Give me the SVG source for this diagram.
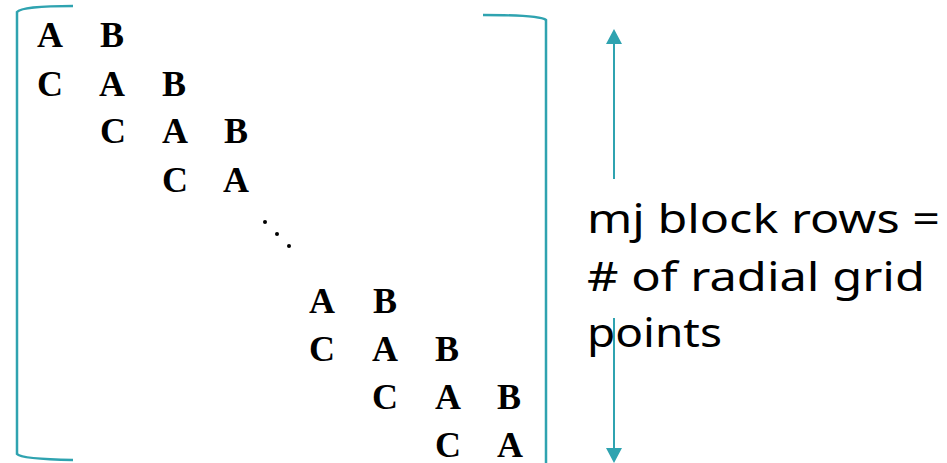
<svg xmlns="http://www.w3.org/2000/svg" width="947" height="463" viewBox="0 0 947 463">
  <style>
    .m { font-family: "Liberation Serif", "Times New Roman", serif; font-weight: bold; font-size: 36px; fill: #000; }
    .lbl { font-family: "Noto Sans", "DejaVu Sans", sans-serif; font-size: 40px; fill: #000; }
    .br { fill: none; stroke: #2fa3b0; stroke-width: 2.5; }
    .ar { stroke: #2fa3b0; stroke-width: 2; fill: none; }
    .ah { fill: #2fa3b0; }
  </style>
  <rect width="947" height="463" fill="#fff"/>
  <g id="bracket-left">
    <path class="br" d="M 73 6 Q 22 6 17 12 L 17 454 Q 21 459 73 460"/>
  </g>
  <g id="bracket-right">
    <path class="br" d="M 483 15 Q 540 15 546 20 L 546 463"/>
  </g>
  <g id="matrix-top">
    <text class="m" x="37" y="47">A</text>
    <text class="m" x="100" y="47">B</text>
    <text class="m" x="37" y="96">C</text>
    <text class="m" x="99" y="96">A</text>
    <text class="m" x="162" y="96">B</text>
    <text class="m" x="100" y="143">C</text>
    <text class="m" x="162" y="143">A</text>
    <text class="m" x="224" y="143">B</text>
    <text class="m" x="162" y="192">C</text>
    <text class="m" x="223" y="192">A</text>
  </g>
  <g id="dots">
    <circle cx="265" cy="222" r="2"/>
    <circle cx="277" cy="234" r="2"/>
    <circle cx="289" cy="246" r="2"/>
  </g>
  <g id="matrix-bottom">
    <text class="m" x="309" y="313">A</text>
    <text class="m" x="373" y="313">B</text>
    <text class="m" x="309" y="361">C</text>
    <text class="m" x="372" y="361">A</text>
    <text class="m" x="435" y="361">B</text>
    <text class="m" x="372" y="409">C</text>
    <text class="m" x="435" y="409">A</text>
    <text class="m" x="497" y="409">B</text>
    <text class="m" x="435" y="457">C</text>
    <text class="m" x="497" y="457">A</text>
  </g>
  <g id="connectors">
    <line class="ar" x1="614" y1="43" x2="614" y2="179"/>
    <polygon class="ah" points="614,29 606,44 622,44"/>
    <line class="ar" x1="614" y1="318" x2="614" y2="449"/>
    <polygon class="ah" points="614,463 606,448 622,448"/>
  </g>
  <g id="label">
    <text class="lbl" x="587" y="233" textLength="353" lengthAdjust="spacingAndGlyphs">mj block rows =</text>
    <text class="lbl" x="587" y="291" textLength="338" lengthAdjust="spacingAndGlyphs"># of radial grid</text>
    <text class="lbl" x="587" y="347" textLength="135" lengthAdjust="spacingAndGlyphs">points</text>
  </g>
</svg>
